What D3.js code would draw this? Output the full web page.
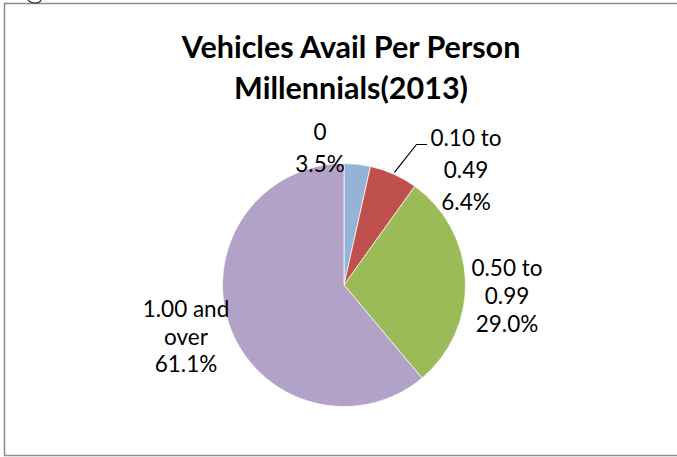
<!DOCTYPE html>
<html>
<head>
<meta charset="utf-8" />
<title>Vehicles Avail Per Person</title>
<style>
body { margin: 0; background: #fff; }
#graph { width: 677px; height: 457px; }
text { font-family: Lato, "Noto Sans", sans-serif; fill: #000; }
</style>
</head>
<body>
<div id="graph"></div>
<script src="https://cdnjs.cloudflare.com/ajax/libs/d3/7.8.5/d3.min.js"></script>
<script>
// chart data
var categories = ["0", "0.10 to 0.49", "0.50 to 0.99", "1.00 and over"]
var values = [3.5, 6.4, 29.0, 61.1]
var colors = ["#95B3D7", "#C0504D", "#9BBB59", "#B3A2C7"]
var labelLines = [["0", "3.5%"], ["0.10 to", "0.49", "6.4%"], ["0.50 to", "0.99", "29.0%"], ["1.00 and", "over", "61.1%"]]
var titleLines = ["Vehicles Avail Per Person", "Millennials(2013)"]

!(function(){
    "use strict"

    var width = 677, height = 457
    var cx = 344, cy = 285, radius = 121.5

    var svg = d3.select("#graph").append("svg")
        .attr("width", width).attr("height", height)

    // frame of the chart object (runs off the right side)
    svg.append("rect")
        .attr("x", 4.5).attr("y", 3.5)
        .attr("width", 700).attr("height", 452)
        .attr("fill", "none")
        .attr("stroke", "#8c8c8c")
        .attr("stroke-width", 1.5)

    // bit of a letter from the page above, clipped at the top edge
    svg.append("path")
        .attr("d", "M28,0 Q30,3 35,3 Q40,3 41,0")
        .attr("fill", "none")
        .attr("stroke", "#333")
        .attr("stroke-width", 1.2)

    // title
    svg.append("g").selectAll("text").data(titleLines).enter().append("text")
        .attr("x", 351)
        .attr("y", function(d, i){ return 58 + i * 41 })
        .attr("text-anchor", "middle")
        .style("font-size", "30.5px")
        .style("font-weight", "bold")
        .text(function(d){ return d })

    var pie = d3.pie().sort(null).value(function(d){ return d })
    var arc = d3.arc().innerRadius(0).outerRadius(radius)
    var arcs = pie(values)

    var chartLayer = svg.append("g").attr("transform", "translate(" + [cx, cy] + ")")

    chartLayer.selectAll(".slice").data(arcs).enter().append("path")
        .attr("class", "slice")
        .attr("d", arc)
        .attr("fill", function(d, i){ return colors[i] })
        .attr("stroke", "#fff")
        .attr("stroke-width", 0.7)

    // label positions relative to pie centre (centre x, first baseline)
    var labelPos = [[-24, -145], [122, -139], [163, -9], [-158, 32]]
    var lineGap = [31.5, 32, 28, 27.5]

    var labels = svg.append("g")
    arcs.forEach(function(a, i){
        var g = labels.append("g")
            .attr("transform", "translate(" + [cx + labelPos[i][0], cy + labelPos[i][1]] + ")")
        g.selectAll("text").data(labelLines[i]).enter().append("text")
            .attr("x", 0)
            .attr("y", function(d, j){ return j * lineGap[i] })
            .attr("text-anchor", "middle")
            .style("font-size", "22.5px")
            .text(function(d){ return d })
    })

    // leader line for the small red slice
    var mid = (arcs[1].startAngle + arcs[1].endAngle) / 2
    var p0 = [cx + Math.sin(mid) * (radius + 2), cy - Math.cos(mid) * (radius + 2)]
    svg.append("polyline")
        .attr("points", [p0, [416.5, 144.5], [427, 144.5]].map(function(p){ return p.join(",") }).join(" "))
        .attr("fill", "none")
        .attr("stroke", "#000")
        .attr("stroke-width", 1.2)
}());
</script>
</body>
</html>
